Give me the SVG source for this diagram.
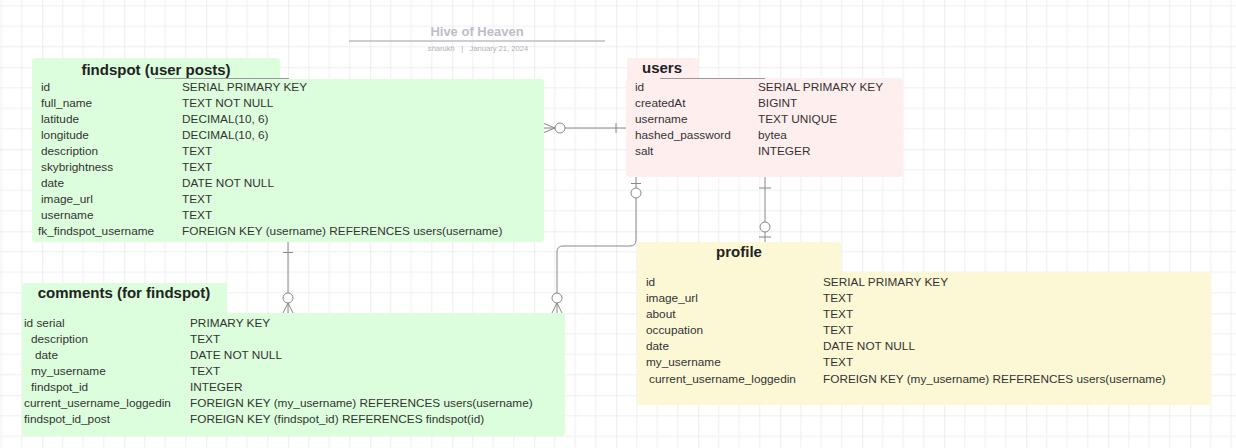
<svg xmlns="http://www.w3.org/2000/svg" width="1236" height="448" viewBox="0 0 1236 448">
<defs>
<pattern id="grid" x="42.3" y="67.3" width="82" height="82" patternUnits="userSpaceOnUse">
<path d="M20.5 0V82M41 0V82M61.5 0V82M0 20.5H82M0 41H82M0 61.5H82" stroke="#efefef" stroke-width="1" fill="none"/>
<path d="M0 0V82M0 0H82" stroke="#dcdcdc" stroke-width="1" fill="none"/>
</pattern>
<style>
.h{font-family:"Liberation Sans",Arial,sans-serif;font-weight:bold;font-size:15px;fill:#222}
.f{font-family:"Liberation Sans",Arial,sans-serif;font-size:11.8px;fill:#333}
.c{fill:none;stroke:#888;stroke-width:1}
.o{fill:#fff;stroke:#888;stroke-width:1}
.g{fill:#ddfedd}
.p{fill:#ffeeee}
.y{fill:#fcf8d5}
.hl{stroke:#999;stroke-width:1}
</style>
</defs>
<rect width="1236" height="448" fill="#fff"/>
<rect width="1236" height="448" fill="url(#grid)"/>

<g id="title">
<text x="477" y="36" text-anchor="middle" font-family="Liberation Sans,Arial,sans-serif" font-weight="bold" font-size="13" fill="#bdbec7">Hive of Heaven</text>
<line x1="349" y1="41" x2="605" y2="41" stroke="#bcbcc6" stroke-width="1.5"/>
<text x="478" y="51" text-anchor="middle" font-family="Liberation Sans,Arial,sans-serif" font-size="7.6" fill="#b0b0b8" xml:space="preserve">sharukh   |   January 21, 2024</text>
</g>

<g id="connectors">
<!-- findspot -> users -->
<path class="c" d="M544 128H626M544 123.5L555 128L544 132.5M616 123V133"/>
<circle class="o" cx="560" cy="128" r="5"/>
<!-- users -> comments -->
<path class="c" d="M636 177V240Q636 246 630 246H563Q557 246 557 252V313M631 183.5H641M552 313L557 303L562 313"/>
<circle class="o" cx="636" cy="193" r="5"/>
<circle class="o" cx="557" cy="298" r="5"/>
<!-- findspot -> comments -->
<path class="c" d="M288 242V313M283 252.5H293M283 313L288 303L293 313"/>
<circle class="o" cx="288" cy="298" r="5"/>
<!-- users -> profile -->
<path class="c" d="M765 177V242M759 188H771M759 237H771"/>
<circle class="o" cx="765" cy="227" r="5"/>
</g>

<g id="findspot">
<rect class="g" x="32" y="58" width="248" height="26" rx="3"/>
<rect class="g" x="32" y="79" width="512" height="163" rx="3"/>
<line class="hl" x1="155" y1="78.5" x2="289" y2="78.5"/>
<text class="h" x="156" y="75" text-anchor="middle">findspot (user posts)</text>
<text class="f" x="41" y="90.5">id</text><text class="f" x="182" y="90.5">SERIAL PRIMARY KEY</text>
<text class="f" x="41" y="106.5">full_name</text><text class="f" x="182" y="106.5">TEXT NOT NULL</text>
<text class="f" x="41" y="122.5">latitude</text><text class="f" x="182" y="122.5">DECIMAL(10, 6)</text>
<text class="f" x="41" y="138.5">longitude</text><text class="f" x="182" y="138.5">DECIMAL(10, 6)</text>
<text class="f" x="41" y="154.5">description</text><text class="f" x="182" y="154.5">TEXT</text>
<text class="f" x="41" y="170.5">skybrightness</text><text class="f" x="182" y="170.5">TEXT</text>
<text class="f" x="41" y="186.5">date</text><text class="f" x="182" y="186.5">DATE NOT NULL</text>
<text class="f" x="41" y="202.5">image_url</text><text class="f" x="182" y="202.5">TEXT</text>
<text class="f" x="41" y="218.5">username</text><text class="f" x="182" y="218.5">TEXT</text>
<text class="f" x="38" y="234.5">fk_findspot_username</text><text class="f" x="182" y="234.5">FOREIGN KEY (username) REFERENCES users(username)</text>
</g>

<g id="users">
<rect class="p" x="627" y="58" width="71" height="26" rx="3"/>
<rect class="p" x="626" y="78" width="277" height="99" rx="3"/>
<line class="hl" x1="660" y1="78.5" x2="765" y2="78.5"/>
<text class="h" x="662" y="73" text-anchor="middle">users</text>
<text class="f" x="635" y="90.5">id</text><text class="f" x="758" y="90.5">SERIAL PRIMARY KEY</text>
<text class="f" x="635" y="106.5">createdAt</text><text class="f" x="758" y="106.5">BIGINT</text>
<text class="f" x="635" y="122.5">username</text><text class="f" x="758" y="122.5">TEXT UNIQUE</text>
<text class="f" x="635" y="138.5">hashed_password</text><text class="f" x="758" y="138.5">bytea</text>
<text class="f" x="635" y="154.5">salt</text><text class="f" x="758" y="154.5">INTEGER</text>
</g>

<g id="comments">
<rect class="g" x="22" y="283" width="205" height="36" rx="3"/>
<rect class="g" x="22" y="313" width="543" height="123" rx="3"/>
<text class="h" x="124" y="298" text-anchor="middle">comments (for findspot)</text>
<text class="f" x="24" y="326.5">id serial</text><text class="f" x="190" y="326.5">PRIMARY KEY</text>
<text class="f" x="31" y="342.5">description</text><text class="f" x="190" y="342.5">TEXT</text>
<text class="f" x="35" y="358.5">date</text><text class="f" x="190" y="358.5">DATE NOT NULL</text>
<text class="f" x="31" y="374.5">my_username</text><text class="f" x="190" y="374.5">TEXT</text>
<text class="f" x="31" y="390.5">findspot_id</text><text class="f" x="190" y="390.5">INTEGER</text>
<text class="f" x="24" y="406.5">current_username_loggedin</text><text class="f" x="190" y="406.5">FOREIGN KEY (my_username) REFERENCES users(username)</text>
<text class="f" x="24" y="422.5">findspot_id_post</text><text class="f" x="190" y="422.5">FOREIGN KEY (findspot_id) REFERENCES findspot(id)</text>
</g>

<g id="profile">
<rect class="y" x="637" y="242" width="204" height="36" rx="3"/>
<rect class="y" x="637" y="272" width="574" height="133" rx="3"/>
<text class="h" x="739" y="257" text-anchor="middle">profile</text>
<text class="f" x="646" y="285.5">id</text><text class="f" x="823" y="285.5">SERIAL PRIMARY KEY</text>
<text class="f" x="646" y="301.5">image_url</text><text class="f" x="823" y="301.5">TEXT</text>
<text class="f" x="646" y="317.5">about</text><text class="f" x="823" y="317.5">TEXT</text>
<text class="f" x="646" y="333.5">occupation</text><text class="f" x="823" y="333.5">TEXT</text>
<text class="f" x="646" y="349.5">date</text><text class="f" x="823" y="349.5">DATE NOT NULL</text>
<text class="f" x="646" y="365.5">my_username</text><text class="f" x="823" y="365.5">TEXT</text>
<text class="f" x="649" y="382.5">current_username_loggedin</text><text class="f" x="823" y="382.5">FOREIGN KEY (my_username) REFERENCES users(username)</text>
</g>
</svg>
